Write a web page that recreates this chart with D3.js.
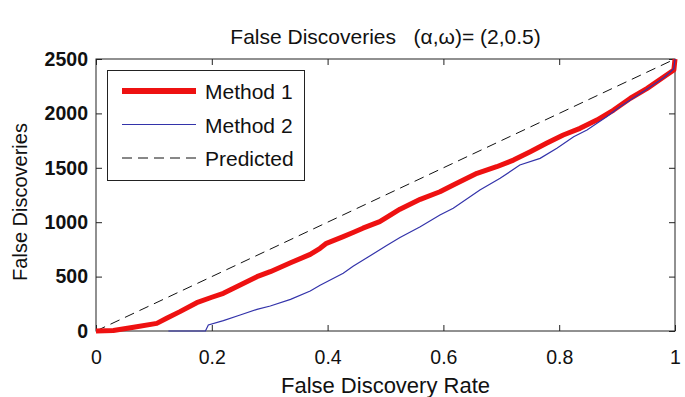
<!DOCTYPE html>
<html>
<head>
<meta charset="utf-8">
<script src="https://cdn.jsdelivr.net/npm/d3@7"></script>
<style>
  html, body {margin: 0; padding: 0; background: #fff;}
  svg {display: block; font-family: 'Liberation Sans', Arial, sans-serif;}
</style>
</head>
<body>
<div id="chart"></div>
<script>
// data
const rateM1 = [0, 0.03, 0.065, 0.105, 0.122, 0.145, 0.174, 0.2, 0.22, 0.249,
  0.278, 0.301, 0.336, 0.37, 0.387, 0.398, 0.427, 0.444, 0.461, 0.49, 0.502,
  0.525, 0.56, 0.594, 0.617, 0.658, 0.692, 0.721, 0.75, 0.778, 0.807, 0.836,
  0.865, 0.894, 0.923, 0.952, 0.981, 0.998, 1.0];
const method1 = [0, 5, 34, 70, 117, 178, 260, 310, 346, 423,
  499, 545, 628, 704, 760, 806, 867, 905, 945, 1005, 1045,
  1120, 1210, 1280, 1342, 1449, 1510, 1571, 1648, 1725, 1801, 1863,
  1939, 2031, 2139, 2230, 2337, 2399, 2500];

const rateM2 = [0.125, 0.189, 0.194, 0.22, 0.249, 0.278, 0.301, 0.336, 0.37,
  0.387, 0.427, 0.444, 0.47, 0.502, 0.525, 0.56, 0.594, 0.617, 0.663, 0.698,
  0.732, 0.767, 0.796, 0.825, 0.848, 0.882, 0.905, 0.952, 0.981, 0.998, 1.0];
const method2 = [0, 0, 55, 95, 147, 199, 230, 291, 368,
  420, 530, 595, 680, 785, 860, 959, 1066, 1128, 1296, 1403,
  1526, 1587, 1679, 1786, 1847, 1969, 2061, 2225, 2330, 2410, 2500];

const predictedRate = [0, 1];
const predicted = [0, 2500];

const xTicks = [0, 0.2, 0.4, 0.6, 0.8, 1];
const yTicks = [0, 500, 1000, 1500, 2000, 2500];
const legendLabels = ['Method 1', 'Method 2', 'Predicted'];

const option = {
  width: 685,
  height: 397,
  left: 96,
  right: 675,
  top: 59,
  bottom: 331
};

const svg = d3.select('#chart').append('svg')
    .attr('width', option.width)
    .attr('height', option.height);

const x = d3.scaleLinear().domain([0, 1]).range([option.left, option.right]);
const y = d3.scaleLinear().domain([0, 2500]).range([option.bottom, option.top]);

const fmtX = (d) => (d === 0 || d === 1) ? String(d) : d3.format('.1f')(d);

// axes: ticks pointing inward, mirrored on top/right
const styleAxis = (g) => {
  g.select('.domain').remove();
  g.selectAll('.tick line').attr('stroke', '#222');
  g.selectAll('.tick text')
      .attr('fill', '#111')
      .attr('font-size', 19.5)
      .attr('font-family', 'Liberation Sans, Arial, sans-serif');
};

svg.append('g')
    .attr('transform', 'translate(0,' + option.bottom + ')')
    .call(d3.axisBottom(x).tickValues(xTicks).tickFormat(fmtX)
        .tickSizeInner(-6).tickPadding(19))
    .call(styleAxis);

svg.append('g')
    .attr('transform', 'translate(0,' + option.top + ')')
    .call(d3.axisTop(x).tickValues(xTicks).tickFormat('')
        .tickSizeInner(-6))
    .call(styleAxis);

svg.append('g')
    .attr('transform', 'translate(' + option.left + ',0)')
    .call(d3.axisLeft(y).tickValues(yTicks).tickFormat(d3.format('d'))
        .tickSizeInner(-6).tickPadding(8))
    .call(styleAxis)
    .call((g) => g.selectAll('.tick text').attr('font-weight', 'bold'));

svg.append('g')
    .attr('transform', 'translate(' + option.right + ',0)')
    .call(d3.axisRight(y).tickValues(yTicks).tickFormat('')
        .tickSizeInner(-6))
    .call(styleAxis);

// plot box
svg.append('rect')
    .attr('x', option.left)
    .attr('y', option.top)
    .attr('width', option.right - option.left)
    .attr('height', option.bottom - option.top)
    .attr('fill', 'none')
    .attr('stroke', '#222')
    .attr('stroke-width', 1);

const line = d3.line().x((d) => x(d[0])).y((d) => y(d[1]));

svg.append('path')
    .datum(d3.zip(predictedRate, predicted))
    .attr('d', line)
    .attr('fill', 'none')
    .attr('stroke', '#111')
    .attr('stroke-width', 1)
    .attr('stroke-dasharray', '10,6');

svg.append('path')
    .datum(d3.zip(rateM1, method1))
    .attr('d', line)
    .attr('fill', 'none')
    .attr('stroke', '#ee1111')
    .attr('stroke-width', 5)
    .attr('stroke-linejoin', 'round');

svg.append('path')
    .datum(d3.zip(rateM2, method2))
    .attr('d', line)
    .attr('fill', 'none')
    .attr('stroke', '#3333aa')
    .attr('stroke-width', 1.2);

// legend
const legend = svg.append('g');
legend.append('rect')
    .attr('x', 107.5)
    .attr('y', 70.5)
    .attr('width', 197)
    .attr('height', 110)
    .attr('fill', '#fff')
    .attr('stroke', '#222');

const legendStyle = [
  {stroke: '#ee1111', width: 6, dash: null},
  {stroke: '#3333aa', width: 1.2, dash: null},
  {stroke: '#111', width: 1, dash: '10,6'}
];
const legendY = d3.scalePoint().domain(legendLabels).range([91, 158]);

legendLabels.forEach((name, i) => {
  legend.append('line')
      .attr('x1', 122)
      .attr('x2', 196)
      .attr('y1', legendY(name))
      .attr('y2', legendY(name))
      .attr('stroke', legendStyle[i].stroke)
      .attr('stroke-width', legendStyle[i].width)
      .attr('stroke-dasharray', legendStyle[i].dash);
  legend.append('text')
      .attr('x', 205)
      .attr('y', legendY(name) + 8)
      .attr('font-size', 21)
      .attr('fill', '#111')
      .text(name);
});

// titles
svg.append('text')
    .attr('x', (option.left + option.right) / 2)
    .attr('y', 44)
    .attr('text-anchor', 'middle')
    .attr('font-size', 21)
    .attr('fill', '#111')
    .attr('xml:space', 'preserve')
    .style('white-space', 'pre')
    .text('False Discoveries   (\u03b1,\u03c9)= (2,0.5)');

svg.append('text')
    .attr('x', (option.left + option.right) / 2)
    .attr('y', 393)
    .attr('text-anchor', 'middle')
    .attr('font-size', 22)
    .attr('fill', '#111')
    .text('False Discovery Rate');

svg.append('text')
    .attr('transform', 'translate(27,' + ((option.top + option.bottom) / 2 + 7) + ') rotate(-90)')
    .attr('text-anchor', 'middle')
    .attr('font-size', 20)
    .attr('fill', '#111')
    .text('False Discoveries');
</script>
</body>
</html>
